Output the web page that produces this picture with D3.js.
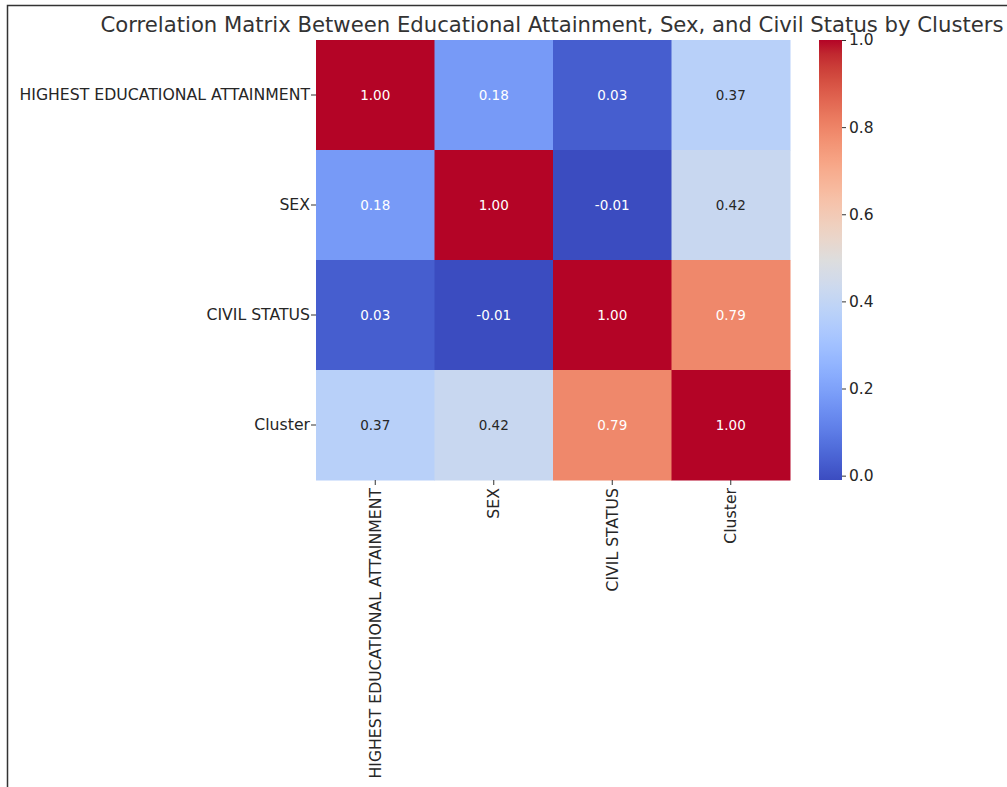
<!DOCTYPE html>
<html>
<head>
<meta charset="utf-8">
<script src="https://cdn.jsdelivr.net/npm/d3@7"></script>
<style>
  body { margin: 0; background: #fff; }
  svg { display: block; font-family: 'DejaVu Sans', sans-serif; }
</style>
</head>
<body>
<svg id="chart" width="1007" height="787"></svg>
<script>
const variables = ['HIGHEST EDUCATIONAL ATTAINMENT', 'SEX', 'CIVIL STATUS', 'Cluster']
const matrix = [
  [1.00, 0.18, 0.03, 0.37],
  [0.18, 1.00, -0.01, 0.42],
  [0.03, -0.01, 1.00, 0.79],
  [0.37, 0.42, 0.79, 1.00]
]
const colorbarTicks = [0.0, 0.2, 0.4, 0.6, 0.8, 1.0]
const title = 'Correlation Matrix Between Educational Attainment, Sex, and Civil Status by Clusters'

// matplotlib coolwarm (Moreland) control points
const coolwarm = [
  [59,76,192],[68,90,204],[77,104,215],[87,117,225],[98,130,234],[108,142,241],
  [119,154,247],[130,165,251],[141,176,254],[152,185,255],[163,194,255],[174,201,253],
  [184,208,249],[194,213,244],[204,217,238],[213,219,230],[221,221,221],[229,216,209],
  [236,211,197],[241,204,185],[245,196,173],[247,187,160],[247,177,148],[247,166,135],
  [244,154,123],[241,141,111],[236,127,99],[229,112,88],[222,96,77],[213,80,66],
  [203,62,56],[192,40,47],[180,4,38]
].map(c => d3.rgb(c[0], c[1], c[2]).toString())
const cmap = d3.scaleLinear()
  .domain(coolwarm.map((_, i) => i / (coolwarm.length - 1)))
  .range(coolwarm)
  .interpolate(d3.interpolateRgb)

const vmin = d3.min(matrix.flat())
const vmax = d3.max(matrix.flat())
const norm = d3.scaleLinear().domain([vmin, vmax]).range([0, 1])
const color = v => cmap(norm(v))

const svg = d3.select('#chart')

// screenshot frame
svg.append('path')
  .attr('d', 'M7.5,787 L7.5,5.5 L1007,5.5')
  .attr('fill', 'none')
  .attr('stroke', '#333')
  .attr('stroke-width', 1.5)

const plotL = 316, plotT = 40, plotR = 790, plotB = 480
const x = d3.scaleBand().domain(variables).range([plotL, plotR])
const y = d3.scaleBand().domain(variables).range([plotT, plotB])

const cells = []
matrix.forEach((row, i) => row.forEach((v, j) => cells.push({ r: variables[i], c: variables[j], v })))

svg.append('g').selectAll('rect')
  .data(cells)
  .enter()
  .append('rect')
  .attr('x', d => x(d.c))
  .attr('y', d => y(d.r))
  .attr('width', x.bandwidth() + 0.5)
  .attr('height', y.bandwidth() + 0.5)
  .attr('fill', d => color(d.v))

// luminance-based text colour like seaborn
const lum = c => {
  const rgb = d3.rgb(c)
  const f = v => { v /= 255; return v <= 0.03928 ? v / 12.92 : Math.pow((v + 0.055) / 1.055, 2.4) }
  return 0.2126 * f(rgb.r) + 0.7152 * f(rgb.g) + 0.0722 * f(rgb.b)
}

svg.append('g').selectAll('text')
  .data(cells)
  .enter()
  .append('text')
  .attr('x', d => x(d.c) + x.bandwidth() / 2)
  .attr('y', d => y(d.r) + y.bandwidth() / 2)
  .attr('text-anchor', 'middle')
  .attr('dominant-baseline', 'central')
  .attr('font-size', 13.5)
  .attr('fill', d => lum(color(d.v)) > 0.408 ? '#262626' : '#ffffff')
  .text(d => d.v.toFixed(2))

const yAxis = svg.append('g')
  .attr('transform', `translate(${plotL},0)`)
  .call(d3.axisLeft(y).tickSize(5).tickPadding(1))
yAxis.select('.domain').remove()
yAxis.selectAll('.tick line').attr('stroke', '#333')
yAxis.selectAll('.tick text').attr('font-size', 15.7).attr('fill', '#262626').attr('font-family', 'DejaVu Sans')

const xAxis = svg.append('g')
  .attr('transform', `translate(0,${plotB})`)
  .call(d3.axisBottom(x).tickSize(5).tickPadding(2))
xAxis.select('.domain').remove()
xAxis.selectAll('.tick line').attr('stroke', '#333')
xAxis.selectAll('.tick text')
  .attr('font-size', 15.7)
  .attr('fill', '#262626')
  .attr('font-family', 'DejaVu Sans')
  .attr('transform', 'rotate(-90)')
  .attr('text-anchor', 'end')
  .attr('x', -8)
  .attr('y', 0)
  .attr('dy', '0.35em')

// colorbar
const cbX = 819, cbW = 23
const cbScale = d3.scaleLinear().domain([vmin, vmax]).range([plotB, plotT])
const defs = svg.append('defs')
const grad = defs.append('linearGradient')
  .attr('id', 'cbGrad')
  .attr('x1', 0).attr('y1', 1).attr('x2', 0).attr('y2', 0)
d3.range(0, 1.0001, 1 / 64).forEach(t => {
  grad.append('stop').attr('offset', t).attr('stop-color', cmap(t))
})
svg.append('rect')
  .attr('x', cbX)
  .attr('y', plotT)
  .attr('width', cbW)
  .attr('height', plotB - plotT)
  .attr('fill', 'url(#cbGrad)')

const cbAxis = svg.append('g')
  .attr('transform', `translate(${cbX + cbW},0)`)
  .call(d3.axisRight(cbScale).tickValues(colorbarTicks).tickFormat(d3.format('.1f')).tickSize(4).tickPadding(3))
cbAxis.select('.domain').remove()
cbAxis.selectAll('.tick line').attr('stroke', '#333')
cbAxis.selectAll('.tick text').attr('font-size', 15.5).attr('fill', '#262626').attr('font-family', 'DejaVu Sans')

svg.append('text')
  .attr('x', (plotL + plotR) / 2 - 1)
  .attr('y', 32)
  .attr('text-anchor', 'middle')
  .attr('font-size', 21.2)
  .attr('fill', '#333')
  .text(title)
</script>
</body>
</html>
